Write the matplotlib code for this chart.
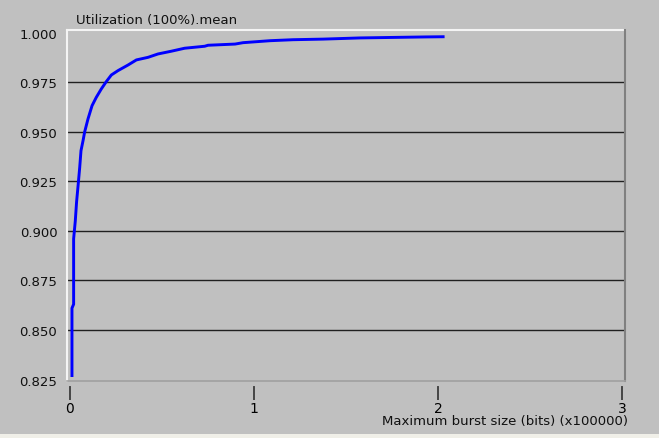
import numpy as np
import matplotlib
matplotlib.use('Agg')
import matplotlib.pyplot as plt
from matplotlib.lines import Line2D

# burst size in units of 100000 bits
burst = [0.011, 0.011, 0.020, 0.020, 0.029, 0.036, 0.045, 0.053, 0.060, 0.071,
         0.080, 0.098, 0.120, 0.143, 0.170, 0.197, 0.225, 0.261, 0.315, 0.361,
         0.424, 0.478, 0.551, 0.623, 0.732, 0.750, 0.897, 0.940, 1.087, 1.212,
         1.375, 1.576, 1.929, 2.027]
util = [0.827, 0.861, 0.863, 0.896, 0.905, 0.9146, 0.9237, 0.932, 0.9405, 0.9455,
        0.950, 0.9565, 0.9632, 0.9674, 0.9716, 0.9753, 0.9787, 0.9809, 0.9837, 0.9863,
        0.9876, 0.9893, 0.9907, 0.9922, 0.9932, 0.9937, 0.9943, 0.995, 0.996, 0.9965,
        0.9968, 0.9974, 0.9979, 0.998]

yticks = [0.825, 0.850, 0.875, 0.900, 0.925, 0.950, 0.975, 1.000]
xticks = [0, 1, 2, 3]
grid_y = [0.850, 0.875, 0.900, 0.925, 0.950, 0.975]

bg = '#c0c0c0'
plt.rcParams['font.family'] = 'DejaVu Sans'

fig = plt.figure(figsize=(6.59, 4.39), dpi=100, facecolor=bg)
ax = fig.add_axes([67/659, 1-381.5/439, (625-67)/659, (381.5-31)/439])
ax.set_facecolor(bg)

for g in grid_y:
    ax.axhline(g, color='#202020', lw=1.0, zorder=1)

ax.plot(burst, util, color='#0000ff', lw=2.1, zorder=3)

ax.set_xlim(-0.016, 3.015)
ax.set_ylim(0.8245, 1.0014)

ax.set_yticks(yticks)
ax.set_yticklabels(['%.3f' % v for v in yticks], fontsize=9.5, color='#101010')
ax.tick_params(axis='y', length=0, pad=7)

ax.set_xticks(xticks)
ax.set_xticklabels([str(v) for v in xticks], fontsize=9.5, color='#101010')
ax.tick_params(axis='x', direction='out', length=11, width=1.2, color='#303030', pad=1)

for s in ['left', 'top', 'right']:
    ax.spines[s].set_visible(False)
ax.spines['bottom'].set_position(('outward', 3))
ax.spines['bottom'].set_color(bg)

# sunken frame
ax.add_line(Line2D([0, 0], [0, 1], transform=ax.transAxes, color='#f4f4f4', lw=1.5, clip_on=False))
ax.add_line(Line2D([0, 1], [1, 1], transform=ax.transAxes, color='#f4f4f4', lw=1.5, clip_on=False))
ax.add_line(Line2D([1, 1], [0, 1], transform=ax.transAxes, color='#808080', lw=1.5, clip_on=False))
ax.add_line(Line2D([0, 1], [0, 0], transform=ax.transAxes, color='#a0a0a0', lw=1.2, clip_on=False))

ax.text(0.016, 1.012, 'Utilization (100%).mean', transform=ax.transAxes,
        fontsize=9.5, color='#101010', ha='left', va='bottom')
fig.text(628/659, 1-422/439, 'Maximum burst size (bits) (x100000)',
         fontsize=9.5, color='#101010', ha='right', va='center')

fig.patches.append(plt.Rectangle((0, 0), 1, 4/439, transform=fig.transFigure,
                                 facecolor='#f0efe8', edgecolor='none'))

fig.savefig('out.png', dpi=100, facecolor=bg)
